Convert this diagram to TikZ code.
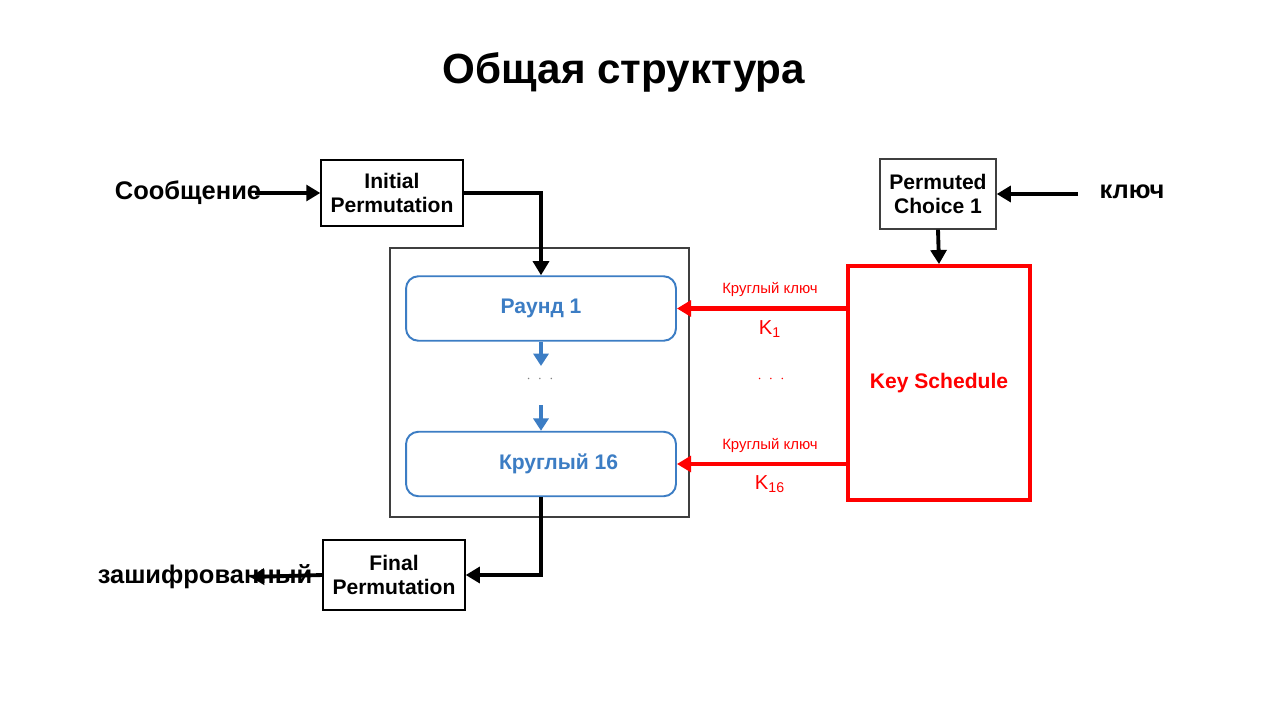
\documentclass[tikz,border=0pt]{standalone}
\usepackage{fontspec}
\setmainfont{Liberation Sans}
\usetikzlibrary{arrows.meta}
\definecolor{rndblue}{HTML}{3C7DC4}
\definecolor{framegray}{HTML}{3F3F3F}
\definecolor{keyred}{HTML}{FF0000}
\begin{document}
\begin{tikzpicture}[x=0.02cm,y=-0.02cm,font=\bfseries\fontsize{12}{14}\selectfont,
  perm/.style={draw,line width=0.8pt,minimum width=2.84cm,minimum height=1.32cm,align=center,inner sep=0pt},
  rnd/.style={draw=rndblue,line width=1.1pt,rounded corners=7pt,minimum width=5.4cm,minimum height=1.29cm,text=rndblue},
  big/.style={font=\bfseries\fontsize{14.5}{16}\selectfont},
  flow/.style={line width=2.2pt,-{Triangle[length=8pt,width=9pt]}},
  blflow/.style={rndblue,line width=2.4pt,-{Triangle[length=7pt,width=8.5pt]}},
  keyflow/.style={keyred,line width=2.8pt,-{Triangle[length=8pt,width=9pt]}},
  klabel/.style={text=keyred,font=\fontsize{8.5}{10}\selectfont},
  kname/.style={text=keyred,font=\fontsize{11.5}{13}\selectfont}]
\useasboundingbox[fill=white](0,0) rectangle (1280,720);
% title
\node (title) at (624,72) {\fontsize{24}{28}\selectfont Общая структура};
% data path
\node[big] (msg) at (188,193) {Сообщение};
\node[perm] (ip) at (392,193) {Initial\\Permutation};
\node[draw=framegray,line width=1pt,minimum width=5.98cm,minimum height=5.38cm] (frame) at (539.5,382.5) {};
\node[rnd] (r1) at (541,308.5) {Раунд 1};
\node[text=gray,font=\fontsize{8}{9}\selectfont] (dots) at (540,379) {$\cdot\ \cdot\ \cdot$};
\node[rnd] (r16) at (541,464) {\hspace{20pt}Круглый 16};
\node[perm,minimum height=1.4cm] (fp) at (394,575) {Final\\Permutation};
\node[big] (enc) at (205,577) {зашифрованный};
\coordinate (msgin) at (255,193);
\coordinate (encout) at (250,577);
\coordinate (r1out) at (541,366);
\coordinate (r16in) at (541,405);
% key path
\node[perm,draw=framegray,minimum width=2.32cm,minimum height=1.4cm] (pc1) at (938,194) {Permuted\\Choice 1};
\node[big] (key) at (1132,192) {ключ};
\coordinate (keyin) at (1078,194);
\node[draw=keyred,line width=2.2pt,minimum width=3.64cm,minimum height=4.68cm,text=keyred] (ks) at (939,383) {Key Schedule};
\node[text=keyred,font=\fontsize{8}{9}\selectfont] (kdots) at (771,379) {$\cdot\ \cdot\ \cdot$};
% connectors
\draw[flow] (msgin) -- (ip.west);
\draw[flow] (ip.east) -| (r1.north);
\draw[blflow] (r1.south) -- (r1out);
\draw[blflow] (r16in) -- (r16.north);
\draw[flow] (r16.south) |- (fp.east);
\draw[flow] (fp.west) -- (encout);
\draw[flow] (keyin) -- (pc1.east);
\draw[flow] (pc1.south) -- (ks.north);
\draw[keyflow] (r1.east -| ks.west) -- (r1.east)
  node[klabel,pos=0.45,above=2pt] {Круглый ключ}
  node[kname,pos=0.45,below=2pt] {K\textsubscript{1}};
\draw[keyflow] (r16.east -| ks.west) -- (r16.east)
  node[klabel,pos=0.45,above=2pt] {Круглый ключ}
  node[kname,pos=0.45,below=2pt] {K\textsubscript{16}};
\end{tikzpicture}
\end{document}
